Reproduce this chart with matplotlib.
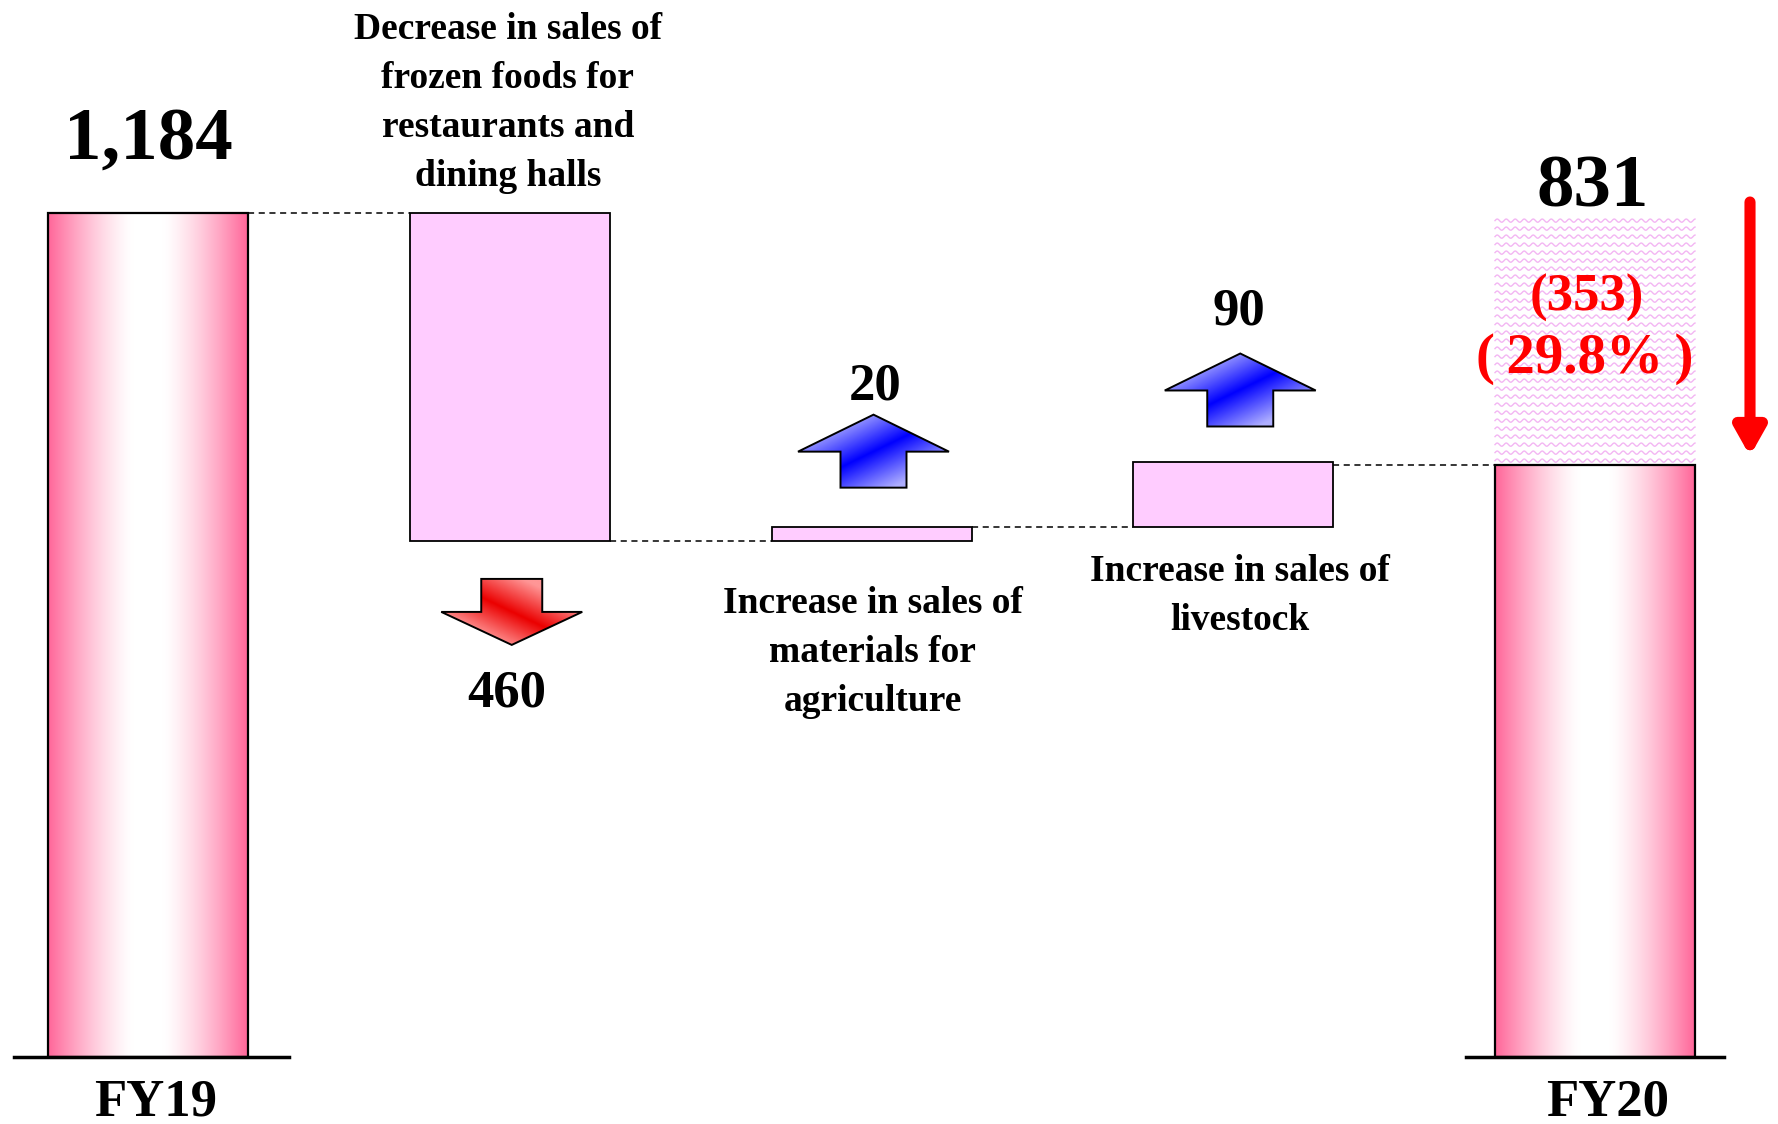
import numpy as np
import matplotlib
matplotlib.use("Agg")
import matplotlib.pyplot as plt
from matplotlib.patches import Rectangle, Polygon

# --- data ---
start_label = "FY19"
end_label = "FY20"
start_value = 1184
end_value = 831
change_labels = [
    "Decrease in sales of\nfrozen foods for\nrestaurants and\ndining halls",
    "Increase in sales of\nmaterials for\nagriculture",
    "Increase in sales of\nlivestock",
]
change_values = [-460, 20, 90]

# --- figure: axes fills the canvas, units chosen so bars land where wanted ---
W, H = 1778, 1124
SX = 361.75          # px per category step
SY = 844 / 1184      # px per unit of sales
X0_PX, Y0_PX = 148, 67

fig = plt.figure(figsize=(W / 100, H / 100), dpi=100)
ax = fig.add_axes([0, 0, 1, 1])
ax.set_xlim(-X0_PX / SX, (W - X0_PX) / SX)
ax.set_ylim(-Y0_PX / SY, (H - Y0_PX) / SY)
ax.axis("off")


def dx(px):
    return px / SX


def dy(px):
    return px / SY


FONT = "Liberation Serif"
BAR_W = dx(200)
PINK = np.array([255, 102, 153]) / 255
LILAC = "#ffccff"
TXT_SHIFT = dy(4.5)   # nudge text down so it sits like the serif glyph boxes


def label(x, y, s, size, **kw):
    ax.text(x, y - TXT_SHIFT, s, ha="center", va="center", fontsize=size,
            fontweight="bold", family=FONT, zorder=7, **kw)


def gradient_bar(x, bottom, top):
    t = np.abs(np.linspace(-1, 1, 300))
    w = np.clip((t - 0.15) / 0.85, 0, 1) ** 1.35
    img = (1 - w)[:, None] * np.ones(3) + w[:, None] * PINK
    img = img[None, :, :]
    ax.imshow(img, extent=[x - BAR_W / 2, x + BAR_W / 2, bottom, top],
              aspect="auto", interpolation="bilinear", zorder=2)
    ax.add_patch(Rectangle((x - BAR_W / 2, bottom), BAR_W, top - bottom,
                           fill=False, ec="black", lw=1.6, zorder=3))


def block_arrow(xc, y_base, up, head_w, shaft_w, head_h, shaft_h, kind):
    # outline in pixel offsets, tail at y_base
    s = 1 if up else -1
    pts = [(-shaft_w / 2, 0), (shaft_w / 2, 0), (shaft_w / 2, shaft_h),
           (head_w / 2, shaft_h), (0, shaft_h + head_h),
           (-head_w / 2, shaft_h), (-shaft_w / 2, shaft_h)]
    verts = [(xc + dx(px), y_base + s * dy(py)) for px, py in pts]
    poly = Polygon(verts, closed=True, fc="none", ec="black", lw=1.4, zorder=6)
    ax.add_patch(poly)
    n = 200
    u, v = np.meshgrid(np.linspace(0, 1, n), np.linspace(0, 1, n))
    if kind == "red":
        d = (u - v) * 0.8 + 0.1
        f = np.clip(1 - np.abs(d - 0.1) * 2.2, 0, 1)
        light = np.array([255, 150, 150]) / 255
        full = np.array([235, 0, 0]) / 255
    else:
        d = (u + v - 1.0)
        f = np.clip(1 - np.abs(d) * 1.6, 0, 1)
        light = np.array([175, 175, 255]) / 255
        full = np.array([0, 0, 255]) / 255
    img = light * (1 - f[..., None]) + full * f[..., None]
    xs = [p[0] for p in verts]
    ys = [p[1] for p in verts]
    im = ax.imshow(img, extent=[min(xs), max(xs), min(ys), max(ys)],
                   origin="upper", aspect="auto", zorder=5)
    im.set_clip_path(poly)


def lines_text(x, y_top, text, size, gap_px):
    for i, line in enumerate(text.split("\n")):
        label(x, y_top - dy(gap_px) * i, line, size)


# --- start bar ---
gradient_bar(0, 0, start_value)
ax.plot([-dx(134), dx(141)], [0, 0], color="black", lw=2.5, zorder=4)
label(0, start_value + dy(77), f"{start_value:,}", 54)
label(dx(8), -dy(41), start_label, 38)

# --- change bars ---
level = start_value
prev_right = BAR_W / 2
for i, (lab, val) in enumerate(zip(change_labels, change_values), start=1):
    new = level + val
    lo, hi = min(level, new), max(level, new)
    ax.plot([prev_right, i - BAR_W / 2], [level, level], color="black",
            lw=1.1, ls=(0, (4, 3)), zorder=1)
    ax.add_patch(Rectangle((i - BAR_W / 2, lo), BAR_W, hi - lo, fc=LILAC,
                           ec="black", lw=1.3, zorder=3))
    if val < 0:
        block_arrow(i + dx(2), lo - dy(38), False, 141, 61, 33, 33, "red")
        label(i - dx(3), lo - dy(148), f"{abs(val)}", 38)
        lines_text(i - dx(2), hi + dy(41) + dy(49) * 3, lab, 27, 49)
    else:
        gap = 39 if i == 2 else 36
        block_arrow(i + dx(2 if i == 2 else 7), hi + dy(gap), True,
                    151, 66, 37, 36, "blue")
        label(i + dx(4 if i == 2 else 6), hi + dy(145 if i == 2 else 155),
              f"{val}", 38)
        below = 58 if i == 2 else 40
        lines_text(i + dx(1 if i == 2 else 7), lo - dy(below), lab, 27, 49)
    level = new
    prev_right = i + BAR_W / 2

# --- end bar ---
n_end = len(change_values) + 1
ax.plot([prev_right, n_end - BAR_W / 2], [end_value, end_value], color="black",
        lw=1.1, ls=(0, (4, 3)), zorder=1)
gradient_bar(n_end, 0, end_value)
ax.plot([n_end - dx(129), n_end + dx(129)], [0, 0], color="black", lw=2.5, zorder=4)
label(n_end + dx(13), -dy(41), end_label, 38)

# wavy shading for the decline from start to end
left, right = n_end - BAR_W / 2, n_end + BAR_W / 2
xs = np.linspace(left, right, 400)
phase = (xs - left) / dx(9) * 2 * np.pi
for yy in np.arange(end_value + dy(4), start_value, dy(8)):
    ax.plot(xs, yy + dy(1.6) * np.sin(phase), color="#f3b6f3", lw=1.0, zorder=1)

label(n_end - dx(2), start_value + dy(29), f"{end_value:,}", 54)
diff = start_value - end_value
label(n_end - dx(8), start_value - dy(80), f"({diff})", 38, color="red")
label(n_end - dx(10), start_value - dy(142), f"(\u2009{diff / start_value:.1%}\u2009)", 41,
      color="red")

# red downward arrow beside the end bar
ax.annotate("", xy=(n_end + dx(155), start_value - dy(243)),
            xytext=(n_end + dx(155), start_value + dy(11)),
            arrowprops=dict(arrowstyle="-|>,head_length=1.6,head_width=0.9",
                            color="red", lw=8, shrinkA=0, shrinkB=0))

fig.savefig("out.png", dpi=100)
